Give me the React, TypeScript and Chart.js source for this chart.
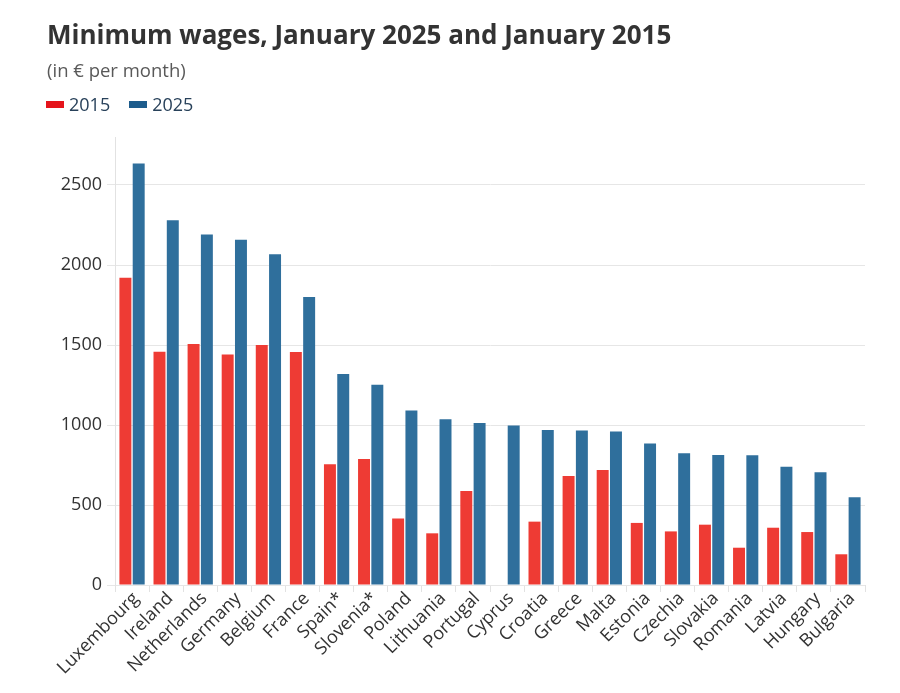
import React, { useEffect, useRef } from "react";
import { Chart, registerables } from "chart.js";

Chart.register(...registerables);

const categories = [
  "Luxembourg", "Ireland", "Netherlands", "Germany", "Belgium", "France",
  "Spain*", "Slovenia*", "Poland", "Lithuania", "Portugal", "Cyprus",
  "Croatia", "Greece", "Malta", "Estonia", "Czechia", "Slovakia",
  "Romania", "Latvia", "Hungary", "Bulgaria",
];

const wages2015: (number | null)[] = [
  1921, 1458, 1506, 1440, 1500, 1456, 755, 787, 415, 323, 587, null,
  396, 681, 719, 388, 335, 377, 233, 358, 331, 192,
];

const wages2025: number[] = [
  2634, 2279, 2190, 2158, 2067, 1800, 1318, 1252, 1090, 1036, 1012, 997,
  968, 966, 960, 884, 824, 813, 811, 739, 705, 549,
];

const yTicks = [0, 500, 1000, 1500, 2000, 2500];
const yMax = 2800;

const titleText = "Minimum wages, January 2025 and January 2015";
const subtitleText = "(in € per month)";
const seriesNames = ["2015", "2025"];

const RED = "#ee3b34";
const BLUE = "#2f6f9c";
const RED_LEGEND = "#e5141b";
const BLUE_LEGEND = "#1d5c8c";
const FONT = "'Open Sans', 'Noto Sans', sans-serif";

export default function App() {
  const canvasRef = useRef<HTMLCanvasElement | null>(null);

  useEffect(() => {
    if (!canvasRef.current) return;
    const chart = new Chart(canvasRef.current, {
      type: "bar",
      data: {
        labels: categories,
        datasets: [
          {
            label: seriesNames[0],
            data: wages2015,
            backgroundColor: RED,
            borderWidth: 0,
          },
          {
            label: seriesNames[1],
            data: wages2025,
            backgroundColor: BLUE,
            borderWidth: 0,
          },
        ],
      },
      options: {
        responsive: false,
        animation: false,
        layout: { padding: { left: 47, right: 35, top: 137, bottom: 0 } },
        datasets: {
          bar: { categoryPercentage: 0.78, barPercentage: 0.9 },
        },
        plugins: {
          legend: { display: false },
          title: { display: false },
          tooltip: { enabled: false },
        },
        scales: {
          x: {
            grid: {
              display: true,
              drawOnChartArea: false,
              drawTicks: true,
              tickLength: 7,
              tickColor: "#e2e2e2",
            },
            border: { display: false },
            ticks: {
              autoSkip: false,
              maxRotation: 45,
              minRotation: 45,
              padding: -4,
              labelOffset: 4,
              color: "#333333",
              font: { family: FONT, size: 18 },
            },
            afterFit: (s: any) => {
              s.height = 108;
            },
          },
          y: {
            min: 0,
            max: yMax,
            afterBuildTicks: (s: any) => {
              s.ticks = yTicks.map((v) => ({ value: v }));
            },
            grid: {
              color: "#e6e6e6",
              lineWidth: 1,
              drawTicks: true,
              tickLength: 8,
              tickColor: "#e6e6e6",
            },
            border: { display: true, color: "#e2e2e2", width: 1 },
            ticks: {
              padding: 5,
              color: "#333333",
              font: { family: FONT, size: 18 },
              callback: (v: any) => String(v),
            },
            afterFit: (s: any) => {
              s.width = 68;
            },
          },
        },
      },
    });
    return () => chart.destroy();
  }, []);

  return (
    <div
      style={{
        position: "absolute",
        left: 0,
        top: 0,
        width: 900,
        height: 693,
        background: "#ffffff",
        fontFamily: FONT,
      }}
    >
      <canvas
        ref={canvasRef}
        width={900}
        height={693}
        style={{ position: "absolute", left: 0, top: 0, display: "block" }}
      />
      <div
        style={{
          position: "absolute",
          left: 47,
          top: 19,
          fontSize: 26,
          lineHeight: "30px",
          fontWeight: 700,
          color: "#333333",
          whiteSpace: "nowrap",
        }}
      >
        {titleText}
      </div>
      <div
        style={{
          position: "absolute",
          left: 47,
          top: 60,
          fontSize: 18.5,
          lineHeight: "20px",
          color: "#595959",
          whiteSpace: "nowrap",
        }}
      >
        {subtitleText}
      </div>
      <div
        style={{
          position: "absolute",
          left: 46,
          top: 94,
          height: 20,
          display: "flex",
          alignItems: "center",
          fontSize: 18,
          lineHeight: "20px",
          color: "#28415a",
          whiteSpace: "nowrap",
        }}
      >
        <span style={{ display: "inline-block", width: 18, height: 7, background: RED_LEGEND, marginRight: 5 }} />
        <span>{seriesNames[0]}</span>
        <span style={{ display: "inline-block", width: 18, height: 7, background: BLUE_LEGEND, marginLeft: 19, marginRight: 5 }} />
        <span>{seriesNames[1]}</span>
      </div>
    </div>
  );
}
